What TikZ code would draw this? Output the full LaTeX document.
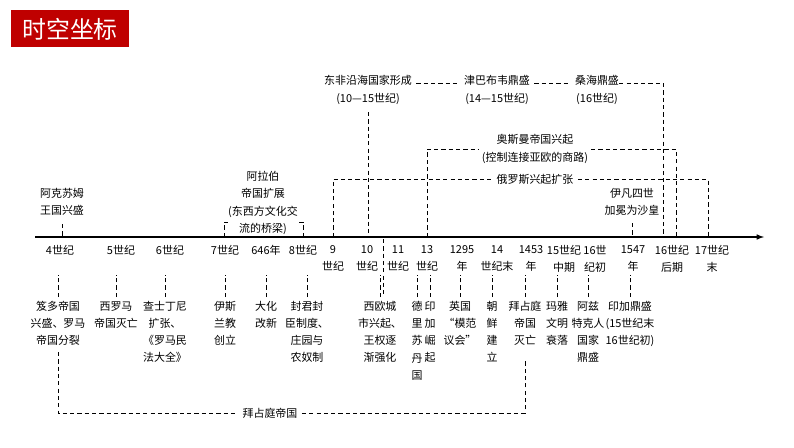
\documentclass[tikz,border=0pt]{standalone}
\usepackage{fontspec}
\setmainfont{Noto Sans CJK SC}
\usetikzlibrary{positioning}
\tikzset{
  txt/.style={font=\fontsize{7.8}{12.2}\selectfont, align=center, inner sep=0pt},
  dsh/.style={dashed, line width=0.6pt, dash pattern=on 3pt off 2.2pt},
  axis/.style={line width=0.8pt, -latex}
}
\begin{document}
\begin{tikzpicture}[x=0.025cm,y=-0.025cm]
    \useasboundingbox (0,0) rectangle (794,447);

    % Title
    \fill[red!75!black] (11,10) rectangle (129,47);
    \node[text=white, font=\fontsize{17}{17}\selectfont] (title) at (70,29) {时空坐标};

    % Axis
    \draw[axis] (35,237) -- (764,237);

    % Axis labels
    \foreach \x/\lbl/\nm in {60/4世纪/a4, 121/5世纪/a5, 170/6世纪/a6, 225/7世纪/a7, 266/646年/a646,
        303/8世纪/a8, 333/9\\世纪/a9, 367/10\\世纪/a10, 398/11\\世纪/a11, 427/13\\世纪/a13,
        462/1295\\年/a1295, 497/14\\世纪末/a14, 531/1453\\年/a1453, 564/15世纪\\中期/a15,
        595/16世\\纪初/a16, 633/1547\\年/a1547, 672/16世纪\\后期/a16b, 712/17世纪\\末/a17} {
      \node[txt, anchor=north] (\nm) at (\x,245) {\lbl};
    }

    % Events below the axis
    \foreach \x/\lbl/\nm in {58/笈多帝国\\兴盛、罗马\\帝国分裂/e1, 116/西罗马\\帝国灭亡/e2,
        165/查士丁尼\\扩张、\\《罗马民\\法大全》/e3, 225/伊斯\\兰教\\创立/e4, 266/大化\\改新/e5,
        307/封君封\\臣制度、\\庄园与\\农奴制/e6, 380/西欧城\\市兴起、\\王权逐\\渐强化/e7,
        417/德\\里\\苏\\丹\\国/e8, 430/印\\加\\崛\\起/e9, 460/英国\\“模范\\议会”/e10,
        492/朝\\鲜\\建\\立/e11, 525/拜占庭\\帝国\\灭亡/e12, 557/玛雅\\文明\\衰落/e13,
        588/阿兹\\特克人\\国家\\鼎盛/e14, 630/印加鼎盛\\(15世纪末\\16世纪初)/e15} {
      \node[txt, anchor=north] (\nm) at (\x,301) {\lbl};
      \draw[dsh] (\nm.north) ++(0,-4) -- ++(0,-22);
    }
    \draw[dsh] (383,239) -- (383,297);

    % Byzantine bracket
    \node[txt, fill=white, inner xsep=3pt] (byz) at (270,413) {拜占庭帝国};
    \draw[dsh] (58,352) |- (byz.west);
    \draw[dsh] (byz.east) -| (525,360);

    % Above the axis
    \node[txt] (aksum) at (62,202) {阿克苏姆\\王国兴盛};
    \draw[dsh] (62,224) -- (62,237);
    \node[txt] (arab) at (263,203) {阿拉伯\\帝国扩展\\(东西方文化交\\流的桥梁)};
    \draw[dsh] (224,237) |- (arab.west |- 0,222);
    \draw[dsh] (303,237) |- (arab.east |- 0,222);

    \node[txt] (eafr) at (368,90) {东非沿海国家形成\\(10—15世纪)};
    \node[txt] (zimb) at (497,90) {津巴布韦鼎盛\\(14—15世纪)};
    \node[txt] (song) at (597,90) {桑海鼎盛\\(16世纪)};
    \draw[dsh] (368,112) -- (368,237);
    \draw[dsh] ([xshift=3pt]eafr.north east |- 0,83) -- ([xshift=-3pt]zimb.north west |- 0,83);
    \draw[dsh] ([xshift=3pt]zimb.north east |- 0,83) -- ([xshift=-3pt]song.north west |- 0,83);
    \draw[dsh] (song.north east |- 0,83) -- (663,83) -- (663,237);

    \node[txt, fill=white, inner xsep=2pt] (otto) at (535,149) {奥斯曼帝国兴起\\(控制连接亚欧的商路)};
    \draw[dsh] (427,237) |- (otto.west);
    \draw[dsh] (otto.east) -| (676,237);

    \node[txt, fill=white, inner xsep=3pt] (rus) at (535,179) {俄罗斯兴起扩张};
    \draw[dsh] (333,237) |- (rus.west);
    \draw[dsh] (rus.east) -| (708,237);

    \node[txt] (ivan) at (632,202) {伊凡四世\\加冕为沙皇};
    \draw[dsh] (632,223) -- (632,237);
\end{tikzpicture}
\end{document}
